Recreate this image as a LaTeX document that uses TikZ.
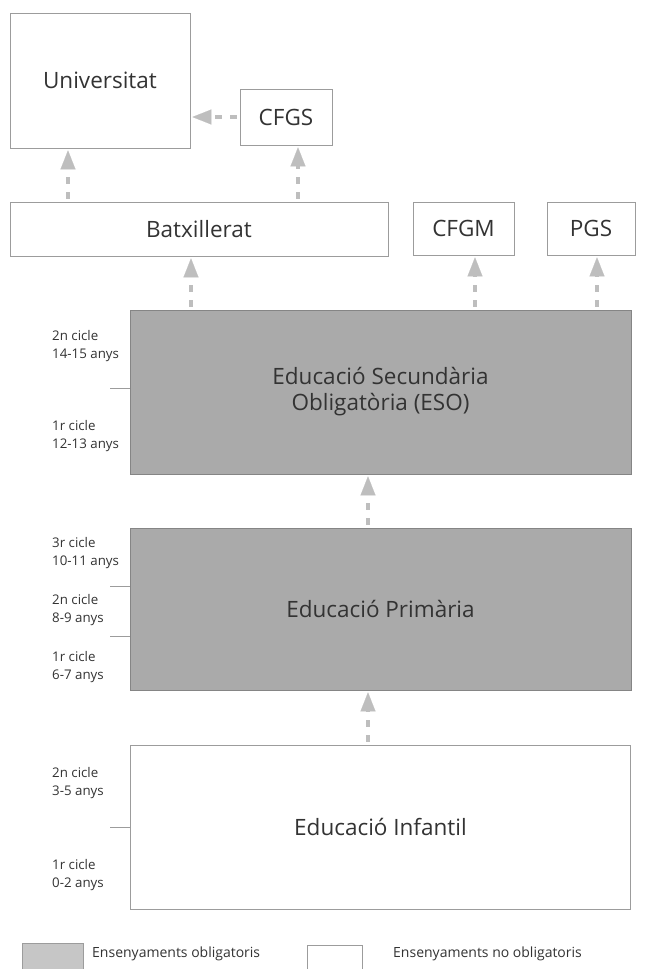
\documentclass[tikz,border=0pt]{standalone}
\usepackage{fontspec}
\setmainfont{Open Sans}
\usetikzlibrary{arrows.meta}
\definecolor{boxline}{HTML}{9C9C9C}
\definecolor{oblig}{HTML}{AAAAAA}
\definecolor{arr}{HTML}{BEBEBE}
\definecolor{txt}{HTML}{333333}
\definecolor{leggray}{HTML}{C6C6C6}
\begin{document}
\begin{tikzpicture}[x=1pt,y=-1pt,
  box/.style={draw=boxline,line width=0.8pt,inner sep=0pt,text=txt,
    font=\fontsize{22.5}{26}\selectfont,align=center},
  obl/.style={box,fill=oblig,draw=boxline!85!black},
  lab/.style={anchor=west,align=left,text=txt,inner sep=0pt,
    font=\fontsize{13.3}{17.5}\selectfont},
  legtxt/.style={anchor=base west,text=txt,inner sep=0pt,
    font=\fontsize{14}{17}\selectfont},
  conn/.style={draw=arr,line width=4pt,dash pattern=on 7pt off 8pt,dash phase=12pt,
    -{Triangle[width=15pt,length=19pt,line width=0.1pt]},shorten >=2pt},
  tickline/.style={draw=boxline,line width=0.8pt}]
\useasboundingbox (0,0) rectangle (650,969);
\fill[white] (0,0) rectangle (650,969);

% boxes
\node[box,minimum width=180pt,minimum height=135pt] (univ) at (100,80.5) {Universitat};
\node[box,minimum width=92pt,minimum height=56pt] (cfgs) at (286,117) {CFGS};
\node[box,minimum width=378pt,minimum height=54pt] (batx) at (199,229) {Batxillerat};
\node[box,minimum width=101pt,minimum height=53pt] (cfgm) at (463.5,228.5) {CFGM};
\node[box,minimum width=88pt,minimum height=53pt] (pgs) at (591,228.5) {PGS};
\node[obl,minimum width=501pt,minimum height=164pt] (eso) at (380.5,392) {Educació Secundària\\Obligatòria (ESO)};
\node[obl,minimum width=501pt,minimum height=162pt] (prim) at (380.5,609) {Educació Primària};
\node[box,minimum width=500pt,minimum height=164pt] (inf) at (380.5,827) {Educació Infantil};

% arrow columns
\coordinate (c1) at (68,0);
\coordinate (c2) at (298,0);
\coordinate (c3) at (191,0);
\coordinate (c4) at (475,0);
\coordinate (c5) at (597,0);
\coordinate (c6) at (368,0);

\draw[conn] (cfgs.west) -- (univ.east |- cfgs.west);
\draw[conn] (batx.north -| c1) -- (univ.south -| c1);
\draw[conn] (batx.north -| c2) -- (cfgs.south -| c2);
\draw[conn] (eso.north -| c3) -- (batx.south -| c3);
\draw[conn] (eso.north -| c4) -- (cfgm.south -| c4);
\draw[conn] (eso.north -| c5) -- (pgs.south -| c5);
\draw[conn] (prim.north -| c6) -- (eso.south -| c6);
\draw[conn] (inf.north -| c6) -- (prim.south -| c6);

% ticks
\draw[tickline] (eso.west |- 0,388) -- +(-20,0);
\draw[tickline] (prim.west |- 0,586) -- +(-20,0);
\draw[tickline] (prim.west |- 0,636) -- +(-20,0);
\draw[tickline] (inf.west |- 0,827) -- +(-20,0);

% cycle labels
\node[lab] (e2) at (52,346) {2n cicle\\14-15 anys};
\node[lab] (e1) at (52,436) {1r cicle\\12-13 anys};
\node[lab] (p3) at (52,553) {3r cicle\\10-11 anys};
\node[lab] (p2) at (52,610) {2n cicle\\8-9 anys};
\node[lab] (p1) at (52,667) {1r cicle\\6-7 anys};
\node[lab] (i2) at (52,783) {2n cicle\\3-5 anys};
\node[lab] (i1) at (52,875) {1r cicle\\0-2 anys};

% legend
\node[draw=boxline,fill=leggray,line width=0.8pt,minimum width=61pt,minimum height=34pt,inner sep=0pt,anchor=north west] (lg1) at (22,943) {};
\node[legtxt] (lt1) at (92,957) {Ensenyaments obligatoris};
\node[draw=boxline,fill=white,line width=0.8pt,minimum width=55pt,minimum height=34pt,inner sep=0pt,anchor=north west] (lg2) at (307,945) {};
\node[legtxt] (lt2) at (393,957) {Ensenyaments no obligatoris};
\end{tikzpicture}
\end{document}
